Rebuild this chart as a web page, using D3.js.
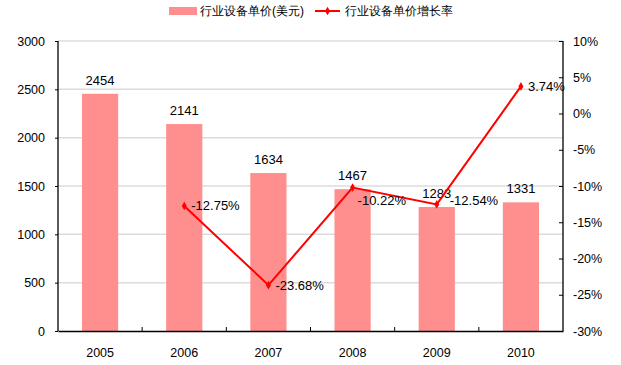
<!DOCTYPE html>
<html>
<head>
<meta charset="utf-8">
<script src="https://cdn.jsdelivr.net/npm/d3@7"></script>
<style>
  body { margin: 0; background: #fff; }
  text { font-family: "Liberation Sans", Arial, sans-serif; fill: #000; }
</style>
</head>
<body>
<svg id="chart"></svg>
<script>
const years = ["2005", "2006", "2007", "2008", "2009", "2010"];
const prices = [2454, 2141, 1634, 1467, 1283, 1331];
const growth = [null, -12.75, -23.68, -10.22, -12.54, 3.74];
const leftTicks = [0, 500, 1000, 1500, 2000, 2500, 3000];
const rightTicks = [-30, -25, -20, -15, -10, -5, 0, 5, 10];

const width = 621, height = 365;
const margin = {top: 41, right: 58, bottom: 34, left: 58};
const barColor = "#ff8f8f", lineColor = "#ff0000";

const svg = d3.select('#chart')
    .attr('width', width).attr('height', height);

const x = d3.scaleBand()
    .domain(years)
    .range([margin.left, width - margin.right])
    .paddingInner(0.57).paddingOuter(0.285);

const band = d3.scaleBand().domain(years).range([margin.left, width - margin.right]);

const y = d3.scaleLinear().domain([0, 3000]).range([height - margin.bottom, margin.top]);
const y2 = d3.scaleLinear().domain([-30, 10]).range([height - margin.bottom, margin.top]);

// grid
svg.append("g")
    .selectAll("line")
    .data(leftTicks.slice(1))
    .join("line")
      .attr("x1", margin.left).attr("x2", width - margin.right)
      .attr("y1", d => y(d)).attr("y2", d => y(d))
      .attr("stroke", "#dcdcdc")
      .attr("stroke-width", 1.5);

// bars
svg.append("g")
    .attr("fill", barColor)
  .selectAll("rect")
  .data(prices)
  .join("rect")
    .attr("x", (d, i) => x(years[i]))
    .attr("width", x.bandwidth())
    .attr("y", d => y(d))
    .attr("height", d => y(0) - y(d));

svg.append("g")
    .attr("font-size", 13)
    .attr("text-anchor", "middle")
  .selectAll("text")
  .data(prices)
  .join("text")
    .attr("x", (d, i) => x(years[i]) + x.bandwidth() / 2)
    .attr("y", d => y(d) - 9)
    .text(d => d);

// axes
const leftAxis = svg.append("g")
    .attr("transform", `translate(${margin.left},0)`)
    .call(d3.axisLeft(y).tickValues(leftTicks).tickSize(3).tickPadding(10)
      .tickFormat(d3.format("d")));

const rightAxis = svg.append("g")
    .attr("transform", `translate(${width - margin.right},0)`)
    .call(d3.axisRight(y2).tickValues(rightTicks).tickSizeInner(-4).tickSizeOuter(0).tickPadding(10)
      .tickFormat(d => d + "%"));

const bottomAxis = svg.append("g")
    .attr("transform", `translate(0,${height - margin.bottom})`)
    .call(d3.axisBottom(band).tickSize(0).tickPadding(17));

// ticks between categories
svg.append("g")
  .selectAll("line")
  .data(years.slice(1))
  .join("line")
    .attr("x1", d => band(d)).attr("x2", d => band(d))
    .attr("y1", y(0) - 4).attr("y2", y(0))
    .attr("stroke", "#000");

[leftAxis, rightAxis, bottomAxis].forEach(g => {
  g.selectAll(".domain").attr("stroke", "#000").attr("stroke-width", 1.3);
  g.selectAll(".tick line").attr("stroke", "#000");
  g.selectAll("text").attr("font-size", 12.5).attr("font-family", '"Liberation Sans", Arial, sans-serif');
});
leftAxis.select(".domain").attr("d", `M0,${margin.top}V${height - margin.bottom}`);
rightAxis.select(".domain").attr("d", `M0,${margin.top}V${height - margin.bottom}`);

// growth line
const pts = growth.map((g, i) => ({year: years[i], g})).filter(d => d.g !== null);
const cx = d => band(d.year) + band.bandwidth() / 2;

svg.append("path")
    .datum(pts)
    .attr("fill", "none")
    .attr("stroke", lineColor)
    .attr("stroke-width", 2)
    .attr("d", d3.line().x(cx).y(d => y2(d.g)));

svg.append("g")
    .attr("fill", lineColor)
  .selectAll("path")
  .data(pts)
  .join("path")
    .attr("transform", d => `translate(${cx(d)},${y2(d.g)})`)
    .attr("d", d3.symbol(d3.symbolDiamond, 22));

// label nudges: 2008 sits below its point, 2009 a bit further right
const nudge = {"2008": [5, 13], "2009": [13, -4]};
svg.append("g")
    .attr("font-size", 13)
  .selectAll("text")
  .data(pts)
  .join("text")
    .attr("x", d => cx(d) + (nudge[d.year] ? nudge[d.year][0] : 7))
    .attr("y", d => y2(d.g) + (nudge[d.year] ? nudge[d.year][1] : 0))
    .attr("dy", "0.35em")
    .text(d => d.g.toFixed(2) + "%");

// legend
const legend = svg.append("g").attr("font-size", 12);
legend.append("rect")
    .attr("x", 169).attr("y", 7).attr("width", 28).attr("height", 8)
    .attr("fill", barColor);
legend.append("text")
    .attr("x", 200).attr("y", 11).attr("dy", "0.35em")
    .text("行业设备单价(美元)");
legend.append("line")
    .attr("x1", 315).attr("x2", 340).attr("y1", 11).attr("y2", 11)
    .attr("stroke", lineColor).attr("stroke-width", 2);
legend.append("path")
    .attr("transform", "translate(327.5,11)")
    .attr("fill", lineColor)
    .attr("d", d3.symbol(d3.symbolDiamond, 22));
legend.append("text")
    .attr("x", 345).attr("y", 11).attr("dy", "0.35em")
    .text("行业设备单价增长率");
</script>
</body>
</html>
